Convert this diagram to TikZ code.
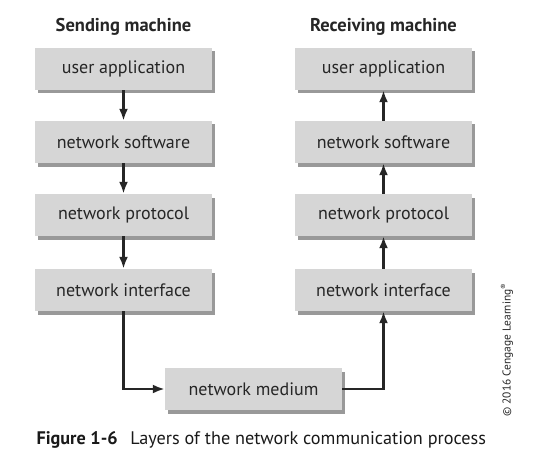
\documentclass[tikz,border=0pt]{standalone}
\usepackage{fontspec}
\setmainfont{PT Sans}
\usetikzlibrary{arrows.meta}
\definecolor{boxfill}{HTML}{D6D6D6}
\definecolor{boxshadow}{HTML}{999999}
\tikzset{
  layer/.style={rectangle, fill=boxfill, minimum width=177pt, minimum height=42pt,
    inner sep=0pt, font=\fontsize{18}{20}\selectfont, text=black!85},
  shade box/.style={fill=boxshadow, draw=none},
  head/.style={font=\bfseries\fontsize{18.5}{20}\selectfont, text=black!85},
  flow/.style={draw=black!85, line width=2.4pt, -{Latex[length=12pt,width=9pt]}},
}
\begin{document}
\begin{tikzpicture}[x=1pt,y=-1pt]
\useasboundingbox (0,0) rectangle (546,476);
\node[head] (sh) at (123.5,27) {Sending machine};
\node[head] (rh) at (383.5,27) {Receiving machine};
\foreach \nm/\cx/\cy in {s1/123.5/69, s2/123.5/142, s3/123.5/215, s4/123.5/290,
  r1/383.5/69, r2/383.5/142, r3/383.5/215, r4/383.5/290, m/253.5/389}
  \fill[shade box] (\cx-88.5+3,\cy-21+3.5) rectangle (\cx+88.5+3,\cy+21+3.5);
\node[layer] (s1) at (123.5,69) {user application};
\node[layer] (s2) at (123.5,142) {network software};
\node[layer] (s3) at (123.5,215) {network protocol};
\node[layer] (s4) at (123.5,290) {network interface};
\node[layer] (r1) at (383.5,69) {user application};
\node[layer] (r2) at (383.5,142) {network software};
\node[layer] (r3) at (383.5,215) {network protocol};
\node[layer] (r4) at (383.5,290) {network interface};
\node[layer] (m) at (253.5,389) {network medium};
\draw[flow] (s1) -- (s2);
\draw[flow] (s2) -- (s3);
\draw[flow] (s3) -- (s4);
\draw[flow] (s4.south) |- (m.west);
\draw[flow] (m.east) -| (r4.south);
\draw[flow] (r4) -- (r3);
\draw[flow] (r3) -- (r2);
\draw[flow] (r2) -- (r1);
\node[rotate=90, font=\fontsize{11.4}{12}\selectfont, text=black!85] (cr) at (507,350) {© 2016 Cengage Learning\textsuperscript{®}};
\node[anchor=west, font=\fontsize{18.2}{20}\selectfont, text=black!90] (cap) at (33,440) {\textbf{Figure 1-6}\hspace{0.7em}Layers of the network communication process};
\end{tikzpicture}
\end{document}
